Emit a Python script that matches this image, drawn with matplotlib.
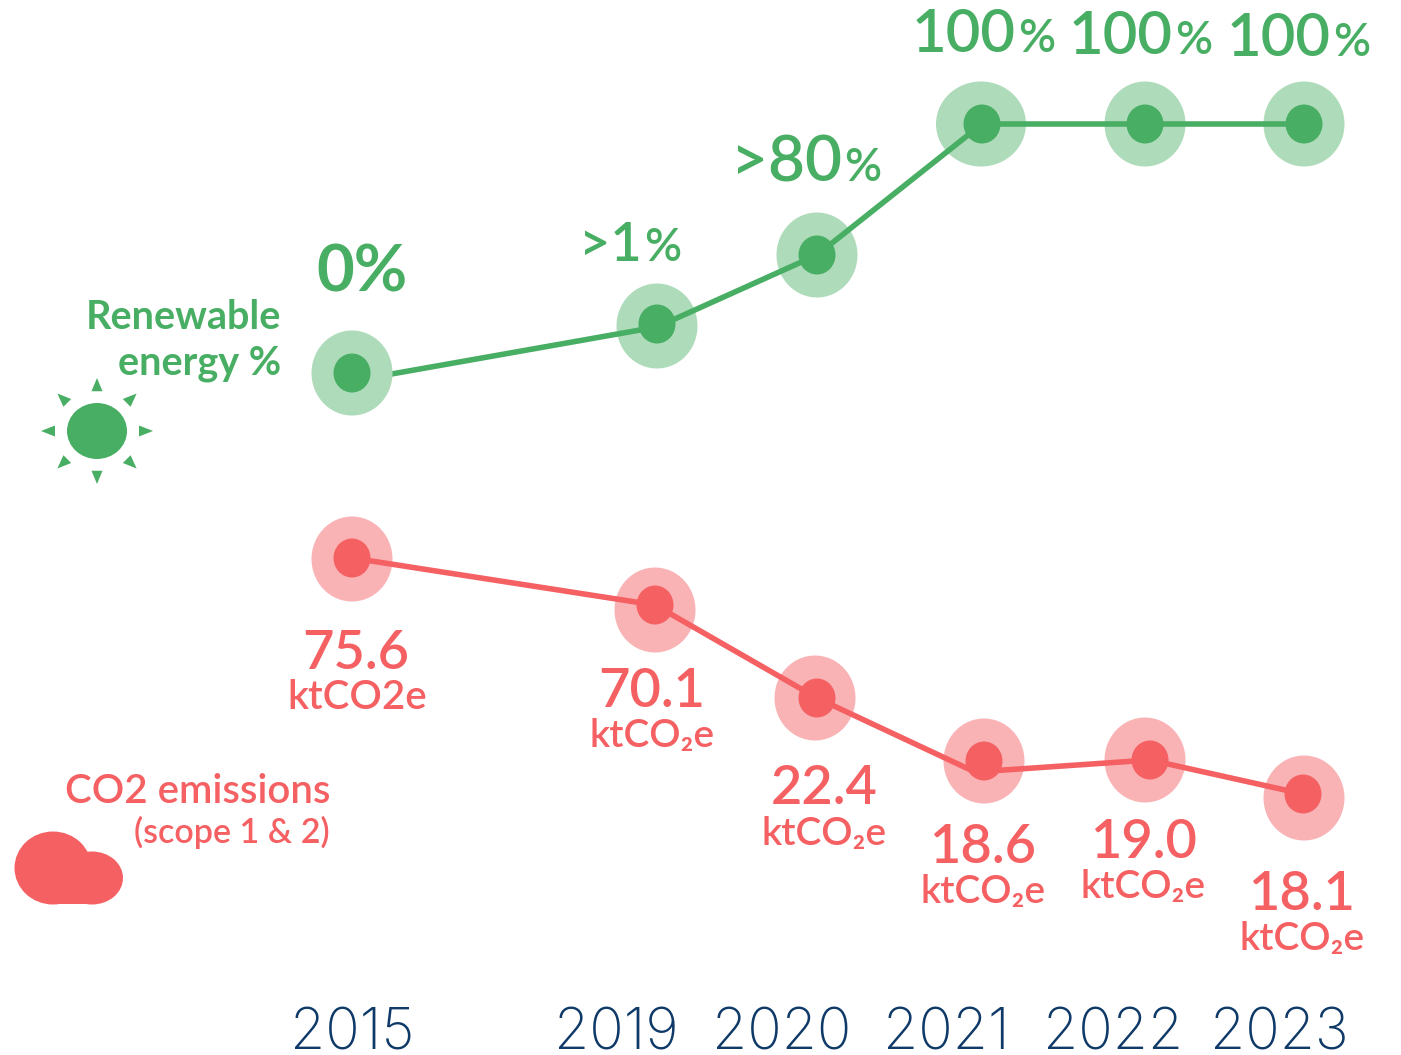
import matplotlib
matplotlib.use('Agg')
import matplotlib.pyplot as plt
from matplotlib.patches import Ellipse, Polygon, Rectangle
import numpy as np

plt.rcParams['font.family'] = ['Lato', 'Noto Sans', 'DejaVu Sans']

GREEN = '#48AE64'
GREEN_HALO = '#AEDBB9'
RED = '#F56063'
RED_HALO = '#FAB3B5'
NAVY = '#0F3A68'

years = ['2015', '2019', '2020', '2021', '2022', '2023']
year_x = [352, 616, 782, 946, 1113, 1279]

green_x = [352, 657, 817, 982, 1145, 1304]
green_y = [373, 324, 255, 124, 124, 124]
green_line_y = [381, 327, 255, 124, 124, 124]
green_halo_x = [352, 657, 817, 981, 1145, 1304]
green_halo_y = [373, 326, 255, 124, 124, 124]
green_halo_w = [81, 81, 81, 90, 81, 81]

red_x = [352, 655, 817, 984, 1150, 1303]
red_y = [558, 605, 698, 761, 760, 794]
red_line_x = [352, 655, 817, 975, 1150, 1303]
red_line_y = [558, 605, 698, 772, 760, 794]
red_halo_x = [352, 655, 815, 984, 1145, 1304]
red_halo_y = [559, 610, 698, 761, 760, 798]

green_nums = ['0', '>1', '>80', '100', '100', '100']
green_num_x = [362, 642, 842, 1016, 1173, 1331]
green_num_y = [291, 261, 181, 52, 54, 56]
green_num_size = [47, 39, 46, 43, 43, 43]

red_vals = ['75.6', '70.1', '22.4', '18.6', '19.0', '18.1']
red_val_x = [356, 652, 824, 983, 1143, 1302]
red_val_y = [669, 707, 804, 863, 858, 910]
red_units = ['ktCO2e', 'ktCO₂e', 'ktCO₂e', 'ktCO₂e', 'ktCO₂e', 'ktCO₂e']
red_unit_x = [357, 652, 824, 983, 1143, 1302]
red_unit_y = [709, 747, 845, 903, 898, 950]

sun_angles = [0, 45, 90, 135, 180, 225, 270, 315]

fig = plt.figure(figsize=(14.01, 10.55), dpi=100)
ax = fig.add_axes([0, 0, 1, 1])
ax.set_xlim(0, 1401)
ax.set_ylim(1055, 0)
ax.axis('off')

# lines
ax.plot(green_x, green_line_y, color=GREEN, lw=4, zorder=3, solid_capstyle='butt')
ax.plot(red_line_x, red_line_y, color=RED, lw=4, zorder=3, solid_capstyle='butt')

# halos and dots
for i in range(len(years)):
    z = 4 if i == 0 else 2
    ax.add_patch(Ellipse((green_halo_x[i], green_halo_y[i]), green_halo_w[i], 85, color=GREEN_HALO, lw=0, zorder=z))
    ax.add_patch(Ellipse((green_x[i], green_y[i]), 37, 39, color=GREEN, lw=0, zorder=5))
    ax.add_patch(Ellipse((red_halo_x[i], red_halo_y[i]), 81, 85, color=RED_HALO, lw=0, zorder=2))
    ax.add_patch(Ellipse((red_x[i], red_y[i]), 37, 39, color=RED, lw=0, zorder=5))

# green labels, the % is set smaller than the number
for i in range(len(years)):
    if i == 0:
        ax.text(green_num_x[i], green_num_y[i], '0%', color=GREEN, fontsize=green_num_size[i], fontweight=700,
                ha='center', va='baseline')
    else:
        ax.text(green_num_x[i], green_num_y[i], green_nums[i], color=GREEN, fontsize=green_num_size[i],
                ha='right', va='baseline', fontweight=600)
        ax.text(green_num_x[i] + 2, green_num_y[i], '%', color=GREEN, fontsize=33,
                ha='left', va='baseline', fontweight=600)

# red labels
for i in range(len(years)):
    ax.text(red_val_x[i], red_val_y[i], red_vals[i], color=RED, fontsize=39, ha='center', va='baseline',
            fontweight=600)
    ax.text(red_unit_x[i], red_unit_y[i], red_units[i], color=RED, fontsize=29 if i == 0 else 28, ha='center',
            va='baseline', fontweight=600)

# years
for i in range(len(years)):
    ax.text(year_x[i], 1050, years[i], color=NAVY, fontsize=41, ha='center', va='baseline',
            family=['Inter', 'DejaVu Sans'], fontweight=200)

# legend style labels
ax.text(281, 329, 'Renewable', color=GREEN, fontsize=28.5, ha='right', va='baseline', fontweight=700)
ax.text(281, 374, 'energy %', color=GREEN, fontsize=28.5, ha='right', va='baseline', fontweight=700)
ax.text(330, 803, 'CO2 emissions', color=RED, fontsize=29, ha='right', va='baseline', fontweight=600)
ax.text(330, 843, '(scope 1 & 2)', color=RED, fontsize=24.5, ha='right', va='baseline', fontweight=600)

# sun icon
ax.add_patch(Ellipse((97, 431), 60, 56, color=GREEN, lw=0))
for a in sun_angles:
    t = np.deg2rad(a)
    d = np.array([np.cos(t), np.sin(t)])
    n = np.array([-d[1], d[0]])
    c = np.array([97, 431])
    ry = 53 / 56
    tip = c + d * 56 * np.array([1, ry])
    base = c + d * 42 * np.array([1, ry])
    ax.add_patch(Polygon([tip, base + n * 5.5, base - n * 5.5], closed=True, color=GREEN, lw=0))

# cloud icon
ax.add_patch(Ellipse((53, 868), 77, 73, color=RED, lw=0))
ax.add_patch(Ellipse((92, 878), 62, 53, color=RED, lw=0))
ax.add_patch(Rectangle((53, 870), 40, 34, color=RED, lw=0))

fig.savefig('out.png', dpi=100, facecolor='white')
